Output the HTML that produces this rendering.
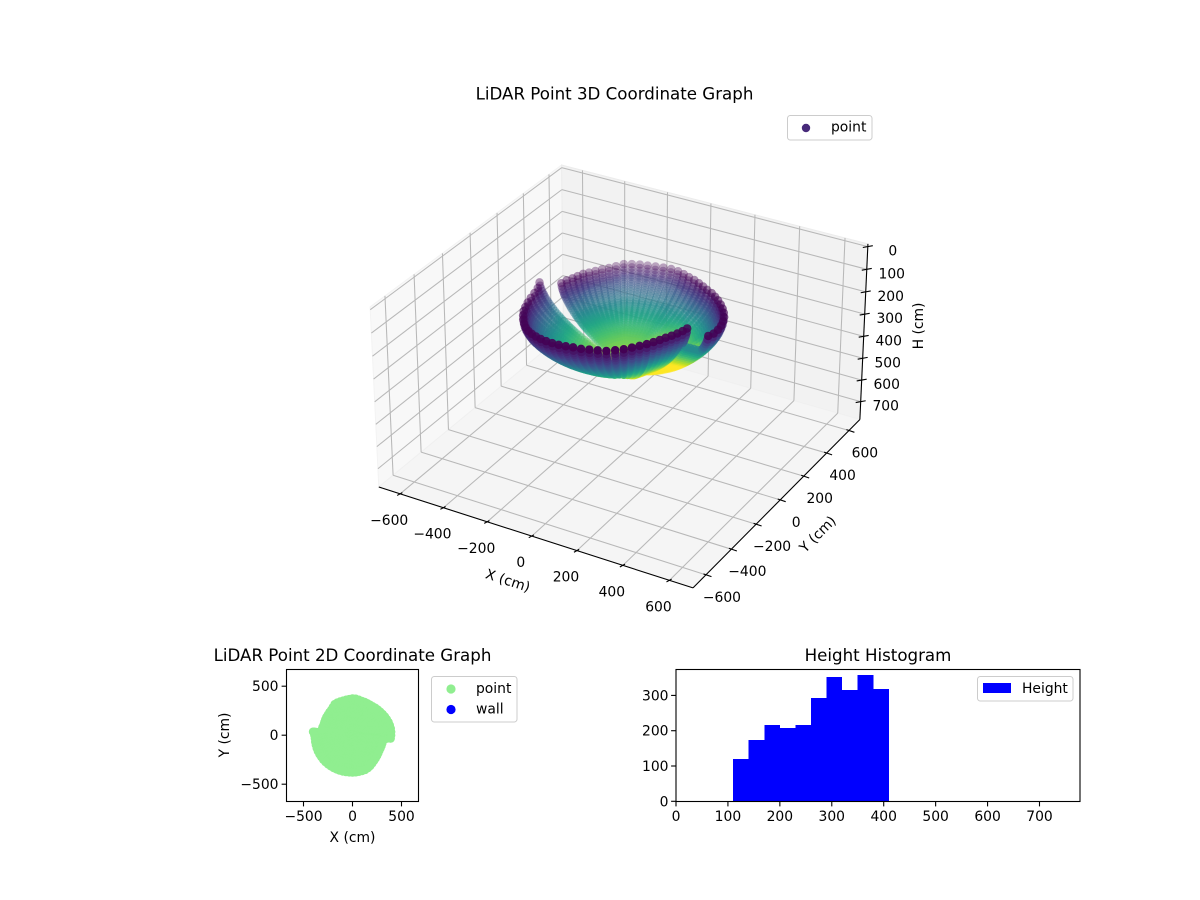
<!DOCTYPE html>
<html>
<head>
<meta charset="utf-8">
<title>LiDAR Point Graphs</title>
<style>
html,body{margin:0;padding:0;background:#fff;}
svg{display:block;}
text{font-family:"DejaVu Sans","Liberation Sans",sans-serif;font-size:13.89px;fill:#000;}
.t{font-size:16.67px;}
</style>
</head>
<body>
<svg id="fig" width="1200" height="900" viewBox="0 0 1200 900" xmlns="http://www.w3.org/2000/svg">
<rect width="1200" height="900" fill="#fff"/>
<g id="panes"></g>
<g id="grid3"></g>
<g id="axes3"></g>
<g id="pts3"></g>
<text class="t" x="614.5" y="99.5" text-anchor="middle">LiDAR Point 3D Coordinate Graph</text>
<text x="0" y="0" text-anchor="middle" transform="translate(506.5,585) rotate(18)">X (cm)</text>
<text x="0" y="0" text-anchor="middle" transform="translate(821,537.5) rotate(-45)">Y (cm)</text>
<text x="0" y="0" text-anchor="middle" transform="translate(923,326) rotate(-90)">H (cm)</text>
<g>
<rect x="787.5" y="115.5" width="84.5" height="24.5" rx="2.8" fill="#fff" fill-opacity=".8" stroke="#ccc" stroke-width="1"/>
<circle cx="806" cy="128" r="4.2" fill="#472a7a"/>
<text x="831" y="131.5">point</text>
</g>

<g id="plot2d">
<g id="pts2"></g>
<g id="axes2"></g>
<rect x="286.5" y="669.5" width="132" height="132" fill="none" stroke="#000" stroke-width="1.1"/>
<text class="t" x="352.5" y="661" text-anchor="middle">LiDAR Point 2D Coordinate Graph</text>
<text x="352.5" y="842" text-anchor="middle">X (cm)</text>
<text x="0" y="0" text-anchor="middle" transform="translate(229,735) rotate(-90)">Y (cm)</text>
<g>
<rect x="431.5" y="676.5" width="85.5" height="45.5" rx="2.8" fill="#fff" stroke="#ccc" stroke-width="1"/>
<circle cx="451" cy="689" r="4.6" fill="#90ee90"/>
<text x="476" y="693">point</text>
<circle cx="451" cy="709.5" r="4.6" fill="#0000ff"/>
<text x="476" y="713.5">wall</text>
</g>
</g>

<g id="hist">
<g id="bars" shape-rendering="crispEdges"></g>
<g id="axesH"></g>
<rect x="676" y="669.5" width="404" height="132" fill="none" stroke="#000" stroke-width="1.1"/>
<text class="t" x="878" y="661" text-anchor="middle">Height Histogram</text>
<g>
<rect x="977.5" y="676.5" width="95.5" height="24.5" rx="2.8" fill="#fff" stroke="#ccc" stroke-width="1"/>
<rect x="983" y="683" width="28" height="10" fill="#0000ff"/>
<text x="1022" y="693">Height</text>
</g>
</g>
</svg>
<script>
// ---- Data ----
const spokeAzimuth = [0,5,10,15,20,25,30,35,40,45,50,55,60,65,70,75,80,85,90,95,100,105,110,115,120,125,130,135,140,145,150,155,160,165,170,175,180,185,190,195,200,205,210,215,220,225,230,235,240,245,250,255,260,265,270,275,280,285,290,295,300,305,310,315,320,325,330,335,340,345,350,355];
const spokeRimRadius = [395,397,397,395,392,387,382,377,372,368,365,360,359,360,362,363,368,374,375,371,368,366,367,368,366,350,339,333,328,325,321,317,314,318,320,405,390,386,387,388,389,390,390,390,390,390,389,388,387,386,385,384,383,382,382,381,380,379,378,372,363,352,342,335,328,322,317,316,316,316,315,392];
const spokeRimHeight = [135,135,135,135,135,135,135,135,135,135,135,135,135,135,135,135,135,135,135,135,135,135,135,135,135,135,135,135,135,135,132,132,132,132,135,145,150,155,160,163,165,165,165,165,165,163,160,155,150,145,140,135,130,125,120,118,115,113,112,110,110,110,110,110,110,110,110,110,110,110,110,130];
const spokeBottomHeight = [400,400,400,400,400,400,400,400,400,400,395,390,385,380,375,370,360,360,360,360,360,360,360,360,360,360,360,360,360,360,360,360,360,360,360,380,380,380,380,380,380,380,380,380,380,380,380,380,380,380,380,380,380,380,380,380,380,380,380,380,385,390,395,400,400,400,400,400,400,400,400,400];
const spokeBottomColor = [1.7,1.7,1.7,1.6,1.45,1.3,1.2,1.2,1.2,1.2,1.15,1.1,1.05,1,0.95,0.9,0.85,0.85,0.85,0.85,0.85,0.85,0.85,0.85,0.85,0.85,0.85,0.85,0.85,0.85,0.85,0.85,0.85,0.85,0.85,0.9,0.9,0.9,0.9,0.9,0.9,0.9,0.9,0.9,0.9,0.9,0.9,0.9,0.9,0.9,0.9,0.9,0.9,0.9,0.9,0.9,0.9,0.9,0.9,0.9,1,1.1,1.15,1.2,1.35,1.35,1.35,1.35,1.35,1.35,1.35,1.7];
const seamFillAzimuth = [351,352,353,354];
const seamFillRadius = [335,350,365,380];
const seamFillRim = [118,120,123,126];
const seamFillBottom = [400,400,400,400];
const seamFillStartDepth = 0.25;
const seamFillColor = 1.7;
const ringDepth = [0,0.06,0.107,0.147,0.187,0.21,0.243,0.277,0.31,0.343,0.377,0.41,0.443,0.477,0.51,0.533,0.557,0.58,0.607,0.627,0.647,0.667,0.687,0.707,0.73,0.753,0.777,0.803,0.823,0.843,0.863,0.883,0.903,0.927,0.953,0.977,1];
const ringSpread = [1,0.993,0.982,0.971,0.957,0.948,0.934,0.918,0.901,0.883,0.863,0.842,0.82,0.796,0.77,0.753,0.733,0.713,0.688,0.669,0.65,0.63,0.609,0.587,0.56,0.533,0.502,0.467,0.438,0.409,0.377,0.343,0.306,0.257,0.196,0.125,0.03];
const histEdges = [110,140,170,200,230,260,290,320,350,380,410];
const histCounts = [120,174,216,208,216,292,352,315,358,318];
const ticks3dXY = [-600,-400,-200,0,200,400,600];
const ticks3dZ = [0,100,200,300,400,500,600,700];
const ticks2d = [-500,0,500];
const histTicksX = [0,100,200,300,400,500,600,700];
const histTicksY = [0,100,200,300];

const NS = 'http://www.w3.org/2000/svg';
function mk(tag, parent, attrs){
  const el = document.createElementNS(NS, tag);
  for (const k in attrs) el.setAttribute(k, attrs[k]);
  parent.appendChild(el);
  return el;
}
function fmt(v){ return v < 0 ? '\u2212' + Math.abs(v) : String(v); }

// ---- 3D projection (elev 30, azim -60) ----
const L = 700, zTop = -12, zBot = 783;
const bx = 0.595, bz = 0.342;
const sx = 3009, sy = 3001, x0 = 623.8, y0 = 365.2, D = 10;
const n = [0.433, -0.75, 0.5], u = [0.866, 0.5, 0], w = [-0.25, 0.433, 0.866];
function world(x, y, z){
  const zc = (zTop + zBot) / 2, zh = (zBot - zTop) / 2;
  return [x / L * bx, y / L * bx, (zc - z) / zh * bz];
}
function dot(a, b){ return a[0]*b[0] + a[1]*b[1] + a[2]*b[2]; }
function proj(x, y, z){
  const d = world(x, y, z);
  const depth = D - dot(n, d);
  return { px: x0 + sx * dot(u, d) / depth, py: y0 - sy * dot(w, d) / depth, depth: depth };
}
function line3(parent, a, b, attrs){
  const p = proj(a[0], a[1], a[2]), q = proj(b[0], b[1], b[2]);
  return mk('line', parent, Object.assign({ x1: p.px, y1: p.py, x2: q.px, y2: q.py }, attrs));
}
function poly3(parent, corners, fill, stroke){
  const s = corners.map(c => { const p = proj(c[0], c[1], c[2]); return p.px + ',' + p.py; }).join(' ');
  return mk('polygon', parent, { points: s, fill: fill, stroke: stroke, 'stroke-width': 1 });
}

// Panes
const panes = document.getElementById('panes');
const paneLeft = poly3(panes, [[-L,-L,zBot],[-L,L,zBot],[-L,L,zTop],[-L,-L,zTop]], '#f8f8f8', '#f3f3f3');


const paneBack = poly3(panes, [[-L,L,zBot],[L,L,zBot],[L,L,zTop],[-L,L,zTop]], '#f2f2f2', '#ececec');


const paneFloor = poly3(panes, [[-L,-L,zBot],[L,-L,zBot],[L,L,zBot],[-L,L,zBot]], '#f5f5f5', '#f0f0f0');



// Grid lines
const grid3 = document.getElementById('grid3');
const gridStyle = { stroke: '#b8b8b8', 'stroke-width': 1.05, fill: 'none' };
ticks3dXY.forEach(v => {
  const a = line3(grid3, [v,-L,zBot], [v,L,zBot], gridStyle);
  
  
  const b = line3(grid3, [v,L,zBot], [v,L,zTop], gridStyle);
  
  
  const c = line3(grid3, [-L,v,zBot], [L,v,zBot], gridStyle);
  
  
  const d = line3(grid3, [-L,v,zBot], [-L,v,zTop], gridStyle);
  
  
});
ticks3dZ.forEach(v => {
  const a = line3(grid3, [-L,-L,v], [-L,L,v], gridStyle);
  
  
  const b = line3(grid3, [-L,L,v], [L,L,v], gridStyle);
  
  
});

// Axis lines, ticks, labels
const axes3 = document.getElementById('axes3');
const axisStyle = { stroke: '#000', 'stroke-width': 1.1 };
const axX = line3(axes3, [-L,-L,zBot], [L,-L,zBot], axisStyle);


const axY = line3(axes3, [L,-L,zBot], [L,L,zBot], axisStyle);


const axZ = line3(axes3, [L,L,zBot], [L,L,zTop], axisStyle);



ticks3dXY.forEach(v => {
  const p = proj(v, -L, zBot);
  const t = mk('line', axes3, { x1: p.px - 3, y1: p.py + 1.6, x2: p.px + 2.2, y2: p.py - 1.2, stroke: '#000', 'stroke-width': 1.1 });
  
  
  const l = mk('text', axes3, { x: p.px - 11, y: p.py + 31, 'text-anchor': 'middle' });
  l.textContent = fmt(v);
  
  

  const q = proj(L, v, zBot);
  const t2 = mk('line', axes3, { x1: q.px - 2.5, y1: q.py - 0.9, x2: q.px + 5.5, y2: q.py + 1.8, stroke: '#000', 'stroke-width': 1.1 });
  
  
  const l2 = mk('text', axes3, { x: q.px + 16, y: q.py + 27, 'text-anchor': 'middle' });
  l2.textContent = fmt(v);
  
  
});
ticks3dZ.forEach(v => {
  const p = proj(L, L, v);
  const t = mk('line', axes3, { x1: p.px - 5, y1: p.py + 0.9, x2: p.px + 5, y2: p.py - 0.9, stroke: '#000', 'stroke-width': 1.1 });
  
  
  const l = mk('text', axes3, { x: p.px + 25, y: p.py + 9, 'text-anchor': 'middle' });
  l.textContent = fmt(v);
  
  
});

// Viridis
const viridisStops = [[68,1,84],[72,36,117],[65,68,135],[53,95,141],[42,120,142],[33,145,140],[34,168,132],[68,191,112],[122,209,81],[189,223,38],[253,231,37]];
function viridis(t){
  t = Math.max(0, Math.min(1, t)) * (viridisStops.length - 1);
  const i = Math.min(Math.floor(t), viridisStops.length - 2), f = t - i;
  const a = viridisStops[i], b = viridisStops[i + 1];
  return 'rgb(' + Math.round(a[0]+(b[0]-a[0])*f) + ',' + Math.round(a[1]+(b[1]-a[1])*f) + ',' + Math.round(a[2]+(b[2]-a[2])*f) + ')';
}

// Build the points from the spoke and ring arrays
const points = [];
spokeAzimuth.forEach((az, i) => {
  const th = az * Math.PI / 180;
  ringDepth.forEach((d, j) => {
    const r = spokeRimRadius[i] * ringSpread[j];
    const h = spokeRimHeight[i] + (spokeBottomHeight[i] - spokeRimHeight[i]) * d;
    const x = r * Math.cos(th), y = r * Math.sin(th);
    const p = proj(x, y, h);
    points.push({ x: x, y: y, px: p.px, py: p.py, depth: p.depth, c: d * spokeBottomColor[i] });
  });
});
seamFillAzimuth.forEach((az, i) => {
  const th = az * Math.PI / 180;
  ringDepth.forEach((d, j) => {
    if (d < seamFillStartDepth) return;
    const r = seamFillRadius[i] * ringSpread[j];
    const h = seamFillRim[i] + (seamFillBottom[i] - seamFillRim[i]) * d;
    const x = r * Math.cos(th), y = r * Math.sin(th);
    const p = proj(x, y, h);
    points.push({ x: x, y: y, px: p.px, py: p.py, depth: p.depth, c: d * seamFillColor });
  });
});
const dMin = Math.min.apply(null, points.map(p => p.depth));
const dMax = Math.max.apply(null, points.map(p => p.depth));
points.sort((a, b) => b.depth - a.depth);

const pts3 = document.getElementById('pts3');
const pts2 = document.getElementById('pts2');
const x2 = v => 352.5 + v * 0.098;
const y2 = v => 735.2 - v * 0.098;
points.forEach(p => {
  const alpha = 1 - 0.7 * (p.depth - dMin) / (dMax - dMin);
  const c = mk('circle', pts3, { cx: p.px.toFixed(2), cy: p.py.toFixed(2), r: 4.25, fill: viridis(p.c), 'fill-opacity': alpha.toFixed(3) });
  
  
  const c2 = mk('circle', pts2, { cx: x2(p.x).toFixed(2), cy: y2(p.y).toFixed(2), r: 4.15, fill: '#90ee90' });
  
  
});

// 2D axes
const axes2 = document.getElementById('axes2');
ticks2d.forEach(v => {
  const a = mk('line', axes2, { x1: x2(v), y1: 801.5, x2: x2(v), y2: 806.4, stroke: '#000', 'stroke-width': 1.1 });
  
  
  const b = mk('text', axes2, { x: x2(v), y: 821, 'text-anchor': 'middle' });
  b.textContent = fmt(v);
  
  
  const c = mk('line', axes2, { x1: 286.5, y1: y2(v), x2: 281.6, y2: y2(v), stroke: '#000', 'stroke-width': 1.1 });
  
  
  const d = mk('text', axes2, { x: 278.5, y: y2(v) + 5, 'text-anchor': 'end' });
  d.textContent = fmt(v);
  
  
});

// Histogram
const xH = v => 676 + v * 404 / 778;
const yH = v => 801.3 - v * 132 / 374;
const bars = document.getElementById('bars');
histCounts.forEach((cnt, i) => {
  const b = mk('rect', bars, { x: xH(histEdges[i]), y: yH(cnt), width: xH(histEdges[i + 1]) - xH(histEdges[i]), height: yH(0) - yH(cnt), fill: '#0000ff' });
  
  
});
const axesH = document.getElementById('axesH');
histTicksX.forEach(v => {
  const a = mk('line', axesH, { x1: xH(v), y1: 801.5, x2: xH(v), y2: 806.4, stroke: '#000', 'stroke-width': 1.1 });
  
  
  const b = mk('text', axesH, { x: xH(v), y: 821, 'text-anchor': 'middle' });
  b.textContent = fmt(v);
  
  
});
histTicksY.forEach(v => {
  const a = mk('line', axesH, { x1: 676, y1: yH(v), x2: 671.1, y2: yH(v), stroke: '#000', 'stroke-width': 1.1 });
  
  
  const b = mk('text', axesH, { x: 668.5, y: yH(v) + 5, 'text-anchor': 'end' });
  b.textContent = fmt(v);
  
  
});
</script>
</body>
</html>
